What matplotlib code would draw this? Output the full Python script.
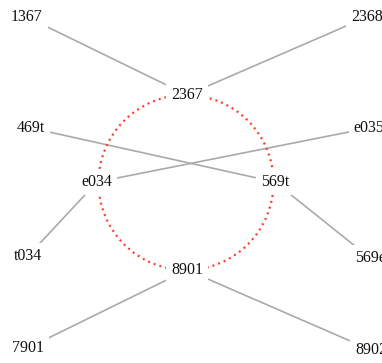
import matplotlib
matplotlib.use("Agg")
import matplotlib.pyplot as plt
from matplotlib.patches import Circle

# node layout (pixel coords, y down)
names = ["1367", "2368", "2367", "469t", "e035", "e034",
         "569t", "t034", "569e", "8901", "7901", "8902"]
node_x = [27, 367, 187, 31, 369, 97, 275, 28, 370, 187, 28, 371]
node_y = [17, 17, 95, 128, 128, 182, 182, 256, 258, 270, 348, 350]

edges = [("1367", "2367"), ("2368", "2367"), ("469t", "569t"),
         ("e035", "e034"), ("e034", "t034"), ("569t", "569e"),
         ("8901", "7901"), ("8901", "8902")]

# dotted ring through the four inner nodes
ring = ["2367", "e034", "569t", "8901"]

pos = {n: (x, y) for n, x, y in zip(names, node_x, node_y)}

fig = plt.figure(figsize=(3.82, 3.63), dpi=100)
ax = fig.add_axes([0, 0, 1, 1])
ax.set_xlim(0, 382)
ax.set_ylim(363, 0)
ax.axis("off")

for a, b in edges:
    ax.plot([pos[a][0], pos[b][0]], [pos[a][1], pos[b][1]],
            color="#aaaaaa", lw=1.2, zorder=1)

rx = [pos[n][0] for n in ring]
ry = [pos[n][1] for n in ring]
cx = (min(rx) + max(rx)) / 2
cy = (min(ry) + max(ry)) / 2
r = (max(ry) - min(ry)) / 2
ax.add_patch(Circle((cx, cy), r, fill=False, edgecolor="#ff3b30",
                    lw=1.6, linestyle=(0, (0.9, 1.8)), zorder=1))

for n in names:
    ax.text(pos[n][0], pos[n][1], n, ha="center", va="center",
            fontsize=11.5, family="Liberation Serif", color="#111111",
            bbox=dict(boxstyle="square,pad=0.3", fc="white", ec="none"),
            zorder=3)

fig.savefig("out.png", dpi=100)
